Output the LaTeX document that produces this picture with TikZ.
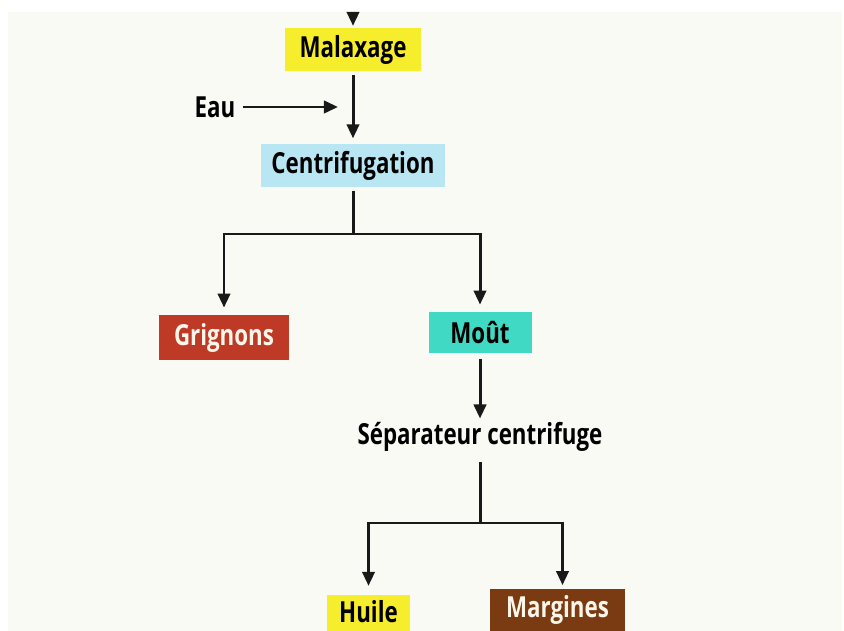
\documentclass[tikz,border=0pt]{standalone}
\usepackage{fontspec}
\setmainfont{Open Sans}[FakeStretch=0.77]
\usetikzlibrary{arrows.meta}
\definecolor{bgpaper}{HTML}{F9FAF4}
\definecolor{malaxyellow}{HTML}{F6EE2C}
\definecolor{centriblue}{HTML}{B8E6F2}
\definecolor{grigred}{HTML}{BE3A26}
\definecolor{mouteal}{HTML}{40D9C3}
\definecolor{margbrown}{HTML}{7A3A12}
\definecolor{lighttext}{HTML}{FBF6EA}
\begin{document}
\begin{tikzpicture}[x=0.02cm,y=-0.02cm,
    stage/.style={inner sep=0pt,font=\fontsize{16.5}{18}\selectfont\bfseries,
      minimum height=0.86cm},
    plain/.style={inner sep=0pt,font=\fontsize{16.5}{18}\selectfont\bfseries},
    flow/.style={line width=1.7pt,black!90},
    tip/.style={flow,-{Triangle[width=7pt,length=8pt]}}]
  \useasboundingbox (0,0) rectangle (844,631);
  \fill[bgpaper] (8,12) rectangle (842,631);

  % process stages
  \node[stage,fill=malaxyellow,minimum width=2.72cm] (malax) at (353,49.5) {Malaxage};
  \node[stage,fill=centriblue,minimum width=3.68cm] (centri) at (353,165.5) {Centrifugation};
  \node[plain] (eau) at (215,107) {Eau};
  \node[stage,fill=grigred,text=lighttext,minimum width=2.6cm,minimum height=0.9cm]
    (grig) at (224,337.5) {Grignons};
  \node[stage,fill=mouteal,minimum width=2.06cm,minimum height=0.82cm]
    (mout) at (480,332.5) {Moût};
  \node[plain] (sep) at (480,437) {Séparateur centrifuge};
  \node[stage,fill=malaxyellow,minimum width=1.66cm,minimum height=0.84cm,text depth=5pt]
    (huile) at (368.5,616) {Huile};
  \node[stage,fill=margbrown,text=lighttext,minimum width=2.7cm,minimum height=0.84cm]
    (marg) at (557.5,610) {Margines};

  \coordinate (entry) at (353,12);
  \coordinate (eauend) at (338,107);
  \coordinate (split1) at (353,234);
  \coordinate (split2) at (480,523);

  % connectors
  \draw[tip,shorten >=1pt] (entry) -- (malax);
  \draw[tip,shorten <=2pt,shorten >=3pt] (malax) -- (centri);
  \draw[tip,shorten <=4pt] (eau) -- (eauend);
  \draw[flow,shorten <=2pt] (centri) -- (split1);
  \draw[tip,shorten >=4pt] (split1) -| (grig);
  \draw[tip,shorten >=4pt] (split1) -| (mout);
  \draw[tip,shorten <=3pt,shorten >=2pt] (mout) -- (sep);
  \draw[flow,shorten <=6pt] (sep) -- (split2);
  \draw[tip,shorten >=5pt] (split2) -| (huile);
  \draw[tip,shorten >=2pt] (split2) -| ([xshift=0.1cm]marg.north);
\end{tikzpicture}
\end{document}
